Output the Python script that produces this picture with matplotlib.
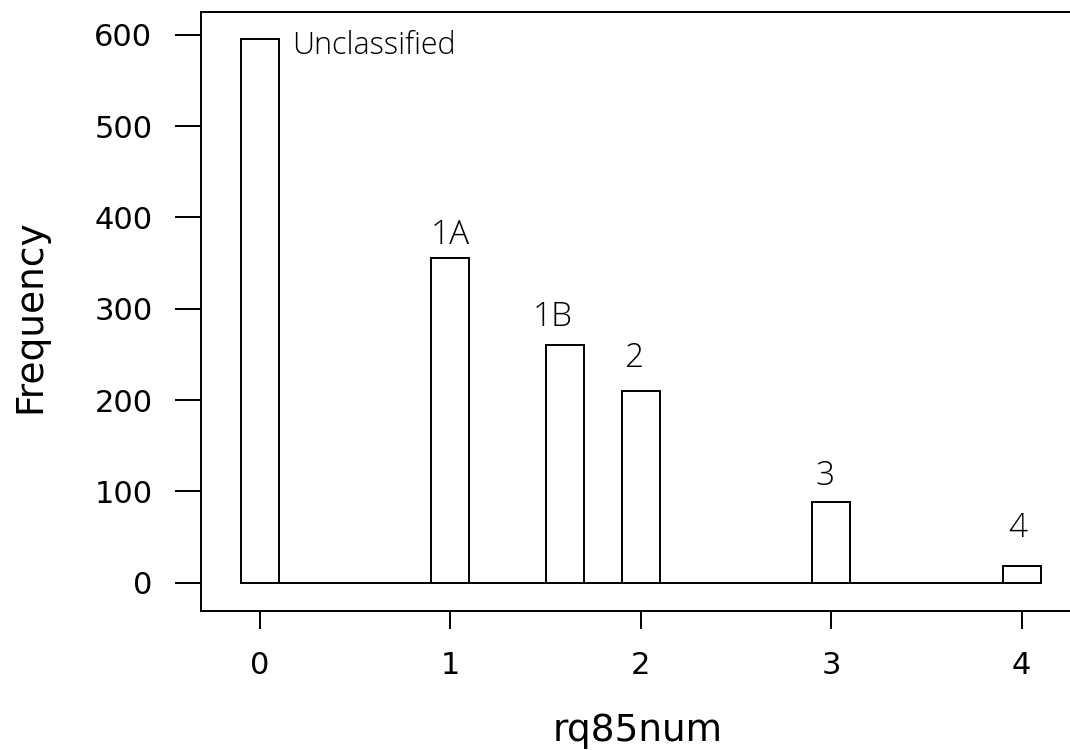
import matplotlib
matplotlib.use("Agg")
import matplotlib.pyplot as plt

# histogram of rq85num: bins of width 0.2, centred on these values
BIN_CENTERS = [0.0, 0.2, 0.4, 0.6, 0.8, 1.0, 1.2, 1.4, 1.6, 1.8, 2.0,
               2.2, 2.4, 2.6, 2.8, 3.0, 3.2, 3.4, 3.6, 3.8, 4.0]
COUNTS = [595, 0, 0, 0, 0, 356, 0, 0, 260, 0, 210,
          0, 0, 0, 0, 88, 0, 0, 0, 0, 18]
BIN_WIDTH = 0.2

# hand-written class labels: (text, x, y)
CLASS_LABELS = [("Unclassified", 0.17, 588),
                ("1A", 1.0, 381),
                ("1B", 1.54, 291),
                ("2", 1.96, 246),
                ("3", 2.97, 117),
                ("4", 3.98, 60)]

X_TICKS = [0, 1, 2, 3, 4]
Y_TICKS = [0, 100, 200, 300, 400, 500, 600]

plt.rcParams["font.family"] = ["DejaVu Sans"]

fig = plt.figure(figsize=(10.7, 7.5), dpi=100)
ax = fig.add_axes([201 / 1070, 139 / 750, 872 / 1070, 599 / 750])

ax.bar(BIN_CENTERS, COUNTS, width=BIN_WIDTH, facecolor="white",
       edgecolor="black", linewidth=1.4, zorder=2)

for text, x, y in CLASS_LABELS:
    long = len(text) > 2
    ax.text(x, y, text, ha="left" if long else "center", va="center",
            fontsize=22 if long else 24, family="Open Sans", fontweight="light")

ax.set_xlim(-0.31, 4.27)
ax.set_ylim(-31, 625)
ax.set_xticks(X_TICKS)
ax.set_yticks(Y_TICKS)
ax.tick_params(axis="y", length=19, width=1.4, pad=16, labelsize=22)
ax.tick_params(axis="x", length=13, width=1.4, pad=16, labelsize=22)
for side in ax.spines.values():
    side.set_linewidth(1.4)

fig.text(30 / 1070, 1 - 316 / 750, "Frequency", rotation=90,
         ha="center", va="center", fontsize=27)
fig.text(638 / 1070, 1 - 731 / 750, "rq85num",
         ha="center", va="center", fontsize=27)

fig.savefig("out.png", dpi=100)
